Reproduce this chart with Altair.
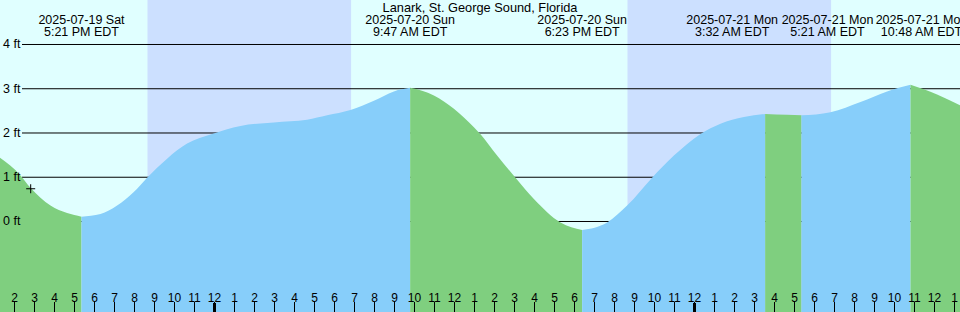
import altair as alt
import pandas as pd

TITLE = "Lanark, St. George Sound, Florida"

# Tide readings: hours since 2025-07-20 00:00 EDT, height in ft
tide_hours = [-10.76, -9.7, -9.2, -8.2, -7.37, -6.65, -5.7, -4.87, -4.05, -3.37, -2.37,
              -1.37, -0.12, 1.3, 2.97, 4.63, 5.63, 6.8, 7.97, 8.97, 9.783, 10.97, 11.97,
              12.97, 13.3, 14.13, 15.05, 15.97, 17.3, 18.383, 19.63, 20.63, 21.88, 22.97,
              24.3, 25.3, 26.47, 27.533, 28.63, 29.35, 30.8, 32.3, 33.63, 34.8, 36.13, 37.3]
tide_ft = [1.45, 1.04, 0.76, 0.36, 0.19, 0.11, 0.17, 0.36, 0.66, 0.99, 1.42,
           1.76, 1.98, 2.16, 2.24, 2.30, 2.40, 2.52, 2.73, 2.94, 3.02, 2.85, 2.55,
           2.13, 1.97, 1.49, 0.99, 0.51, -0.02, -0.19, -0.02, 0.36, 0.99, 1.49,
           1.98, 2.21, 2.36, 2.43, 2.41, 2.40, 2.47, 2.70, 2.94, 3.09, 2.87, 2.62]

# High / low tide events
event_hours = [-6.65, 9.783, 18.383, 27.533, 29.35, 34.8]
event_dates = ["2025-07-19 Sat", "2025-07-20 Sun", "2025-07-20 Sun",
               "2025-07-21 Mon", "2025-07-21 Mon", "2025-07-21 Mon"]
event_times = ["5:21 PM EDT", "9:47 AM EDT", "6:23 PM EDT",
               "3:32 AM EDT", "5:21 AM EDT", "10:48 AM EDT"]
event_label_shift = [0, 0, 0, -33, 26, 11]

# Night periods (sunset -> sunrise), hours since 2025-07-20 00:00
night_start = [-3.35, 20.65]
night_end = [6.83, 30.83]

# Grid levels
grid_ft = [0, 1, 2, 3, 4]
grid_labels = ["0 ft", "1 ft", "2 ft", "3 ft", "4 ft"]

# Hour ticks
tick_hours = [-10, -9, -8, -7, -6, -5, -4, -3, -2, -1, 0, 1, 2, 3, 4, 5, 6, 7, 8, 9, 10, 11,
              12, 13, 14, 15, 16, 17, 18, 19, 20, 21, 22, 23, 24, 25, 26, 27, 28, 29, 30,
              31, 32, 33, 34, 35, 36, 37]
tick_labels = ["2", "3", "4", "5", "6", "7", "8", "9", "10", "11", "12", "1", "2", "3", "4",
               "5", "6", "7", "8", "9", "10", "11", "12", "1", "2", "3", "4", "5", "6", "7",
               "8", "9", "10", "11", "12", "1", "2", "3", "4", "5", "6", "7", "8", "9", "10",
               "11", "12", "1"]
midnight_hours = [0, 24]

# Current time marker
now_hour = -9.19
now_ft = 0.74

DAY = "#E0FFFF"
NIGHT = "#CCE0FF"
RISING = "#87CEFA"
FALLING = "#7FCF7F"
FONT = "Liberation Sans"

Y_MIN = -2.0452
Y_MAX = 5.0056

# ---- build the tide segment table (rising / falling) ----
rows = []
for h, f in zip(tide_hours, tide_ft):
    seg = sum(1 for e in event_hours if e < h - 1e-9)
    rows.append({"h": h, "ft": f, "seg": seg})
    if any(abs(e - h) < 1e-9 for e in event_hours):
        rows.append({"h": h, "ft": f, "seg": seg + 1})
tide_df = pd.DataFrame(rows)
tide_df["phase"] = ["falling" if s % 2 == 0 else "rising" for s in tide_df["seg"]]
tide_df["base"] = Y_MIN

x_scale = alt.Scale(domain=[-10.725, 37.275], nice=False, zero=False)
y_scale = alt.Scale(domain=[Y_MIN, Y_MAX], nice=False, zero=False)


def X(f):
    return alt.X(f, type="quantitative", scale=x_scale, axis=None)


def Y(f):
    return alt.Y(f, type="quantitative", scale=y_scale, axis=None)


night_df = pd.DataFrame({"s": night_start, "e": night_end})
night = alt.Chart(night_df).mark_rect(color=NIGHT).encode(
    x=X("s"), x2="e", y=alt.value(0), y2=alt.value(312))

grid_df = pd.DataFrame({"ft": grid_ft, "label": grid_labels})
grid = alt.Chart(grid_df).mark_rule(color="black", strokeWidth=1).encode(
    x=alt.value(22), x2=alt.value(960), y=Y("ft"))

area = alt.Chart(tide_df).mark_area(interpolate="monotone").encode(
    x=X("h"),
    y=alt.Y("ft", type="quantitative", scale=y_scale, axis=None, stack=None),
    y2=alt.Y2("base"),
    color=alt.Color("phase:N", scale=alt.Scale(domain=["falling", "rising"],
                                               range=[FALLING, RISING]), legend=None),
    detail="seg:N")

ylab = alt.Chart(grid_df).mark_text(align="left", baseline="middle", font=FONT,
                                    fontSize=12.5, color="black").encode(
    x=alt.value(3), y=Y("ft"), text="label:N")

ticks_df = pd.DataFrame({"h": tick_hours, "label": tick_labels})
ticks = alt.Chart(ticks_df).mark_rule(color="black", strokeWidth=1).encode(
    x=X("h"), y=alt.value(302), y2=alt.value(312))
mid = alt.Chart(pd.DataFrame({"h": midnight_hours})).mark_rule(
    color="black", strokeWidth=3).encode(x=X("h"), y=alt.value(303), y2=alt.value(312))
tlab = alt.Chart(ticks_df).mark_text(align="center", baseline="alphabetic", font=FONT,
                                     fontSize=12, color="black").encode(
    x=X("h"), y=alt.value(302), text="label:N")

ev_df = pd.DataFrame({"h": event_hours, "d": event_dates, "t": event_times,
                      "dx": event_label_shift})
ev_layers = []
for i, r in ev_df.iterrows():
    sub = ev_df.iloc[[i]]
    ev_layers.append(alt.Chart(sub).mark_text(align="center", baseline="alphabetic",
                                              font=FONT, fontSize=12.5, color="black",
                                              dx=int(r["dx"])).encode(
        x=X("h"), y=alt.value(24), text="d:N"))
    ev_layers.append(alt.Chart(sub).mark_text(align="center", baseline="alphabetic",
                                              font=FONT, fontSize=12.5, color="black",
                                              dx=int(r["dx"])).encode(
        x=X("h"), y=alt.value(36), text="t:N"))

title = alt.Chart(pd.DataFrame({"t": [TITLE]})).mark_text(
    align="center", baseline="alphabetic", font=FONT, fontSize=12.8, color="black").encode(
    x=alt.value(480), y=alt.value(11.5), text="t:N")

now = alt.Chart(pd.DataFrame({"h": [now_hour], "ft": [now_ft]})).mark_point(
    shape="M-1,0L1,0M0,-1L0,1", size=81, filled=False, stroke="black",
    strokeWidth=1, opacity=1).encode(x=X("h"), y=Y("ft"))

chart = alt.layer(night, grid, area, ylab, ticks, mid, tlab, now, title, *ev_layers).properties(
    width=960, height=312, padding=0, background=DAY,
    autosize=alt.AutoSizeParams(type="none")
).configure_view(stroke=None)

chart.save("out.html", embed_options={"renderer": "svg", "actions": False})
